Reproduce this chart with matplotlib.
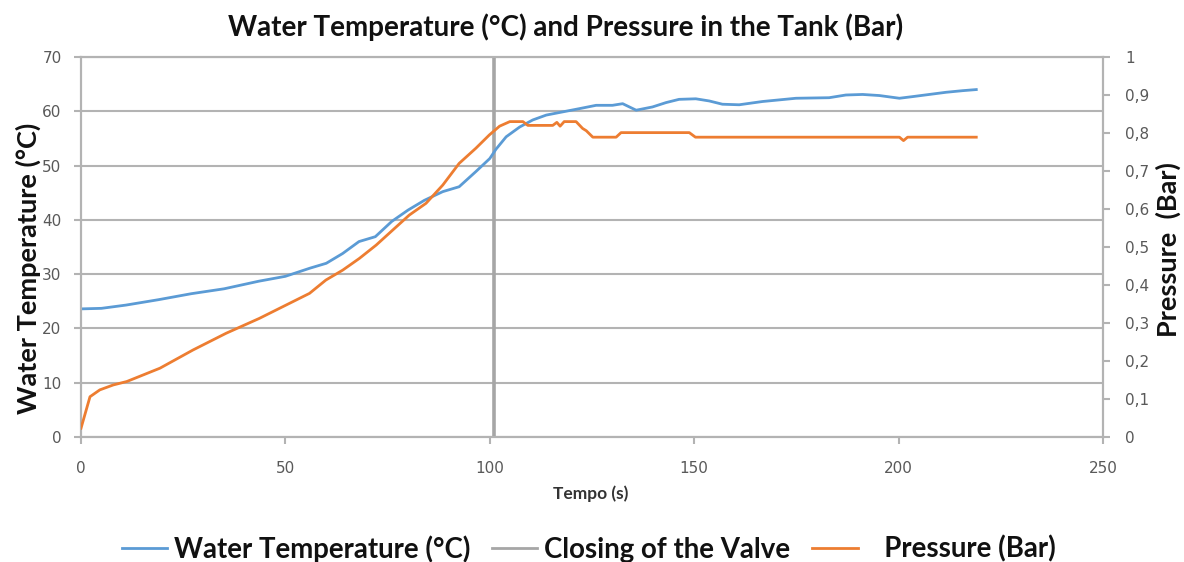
import matplotlib
matplotlib.use('Agg')
import matplotlib.pyplot as plt
from matplotlib.lines import Line2D
from matplotlib.ticker import FuncFormatter, MultipleLocator

plt.rcParams['font.family'] = ['DejaVu Sans']
LABEL_FONT = ['Lato', 'DejaVu Sans']

# water temperature (deg C) over time (s)
time_temp = [0, 5, 11, 19, 27, 35, 43.5, 50, 56, 60, 64, 68, 72, 76, 80, 84,
             88.5, 92.5, 96.6, 100, 101.5, 104, 107.3, 110.5, 113.8, 117.9,
             122, 126, 130, 132.5, 135.8, 139.8, 143.1, 146.3, 150.4, 153.7,
             156.9, 161, 166.7, 170.8, 174.9, 183, 187.1, 191.2, 195.3, 200.2,
             203.4, 207.5, 211.6, 215.7, 219]
temp_c = [23.6, 23.7, 24.3, 25.3, 26.4, 27.3, 28.7, 29.6, 31.1, 32.0, 33.8,
          36.0, 36.9, 39.7, 41.8, 43.6, 45.2, 46.1, 48.9, 51.3, 53.0, 55.3,
          57.1, 58.4, 59.3, 59.9, 60.5, 61.1, 61.1, 61.4, 60.2, 60.8, 61.6,
          62.2, 62.3, 61.9, 61.3, 61.2, 61.8, 62.1, 62.4, 62.5, 63.0, 63.1,
          62.9, 62.4, 62.7, 63.1, 63.5, 63.8, 64.0]

# tank pressure (bar) over time (s)
time_pres = [0, 2.2, 4.6, 7.9, 11.2, 19.3, 27.4, 35.5, 43.6, 51.8, 55.9, 59.9,
             64, 68.1, 72.2, 76.3, 80.3, 84.4, 88.5, 92.5, 96.6, 99.9, 102.4,
             104.9, 108.1, 109.3, 115.4, 116.4, 117.2, 118.2, 121.1, 122.7,
             123.6, 125.2, 130.9, 132.1, 148.8, 150.3, 200.2, 201.2, 202.2, 219]
pressure_bar = [0.023, 0.106, 0.124, 0.137, 0.146, 0.181, 0.229, 0.273, 0.312,
                0.356, 0.378, 0.413, 0.439, 0.470, 0.505, 0.545, 0.584, 0.615,
                0.663, 0.720, 0.760, 0.795, 0.818, 0.830, 0.830, 0.820, 0.820,
                0.828, 0.818, 0.830, 0.830, 0.812, 0.806, 0.789, 0.789, 0.801,
                0.801, 0.789, 0.789, 0.780, 0.789, 0.789]

valve_time = 101

BLUE = '#5b9bd5'
ORANGE = '#ed7d31'
VALVE = '#a6a6a6'
GRID = '#b3b3b3'
TICKTXT = '#595959'
DARK = '#111111'
W, H = 1184, 562

fig = plt.figure(figsize=(W / 100, H / 100), dpi=100)
ax = fig.add_axes([81 / W, 1 - 437 / H, (1103 - 81) / W, 380 / H])
ax2 = ax.twinx()

ax.set_xlim(0, 250)
ax.set_ylim(0, 70)
ax2.set_ylim(0, 1)

ax.xaxis.set_major_locator(MultipleLocator(50))
ax.yaxis.set_major_locator(MultipleLocator(10))
ax2.yaxis.set_major_locator(MultipleLocator(0.1))
ax2.yaxis.set_major_formatter(
    FuncFormatter(lambda v, _: ('%g' % round(v, 1)).replace('.', ',')))

ax.yaxis.grid(True, color=GRID, lw=1.5)
ax.set_axisbelow(True)
for a in (ax, ax2):
    for s in a.spines.values():
        s.set_color(GRID)
        s.set_linewidth(1.5)
ax.tick_params(axis='both', color=GRID, width=1.5, length=5,
               labelcolor=TICKTXT, labelsize=11)
ax.tick_params(axis='y', pad=9)
ax.tick_params(axis='x', pad=12)
ax2.tick_params(axis='y', color=GRID, width=1.5, length=5,
                labelcolor=TICKTXT, labelsize=11, pad=11)

ax.axvline(valve_time, color=VALVE, lw=2.6, zorder=2)
ax.plot(time_temp, temp_c, color=BLUE, lw=2, zorder=3)
ax2.plot(time_pres, pressure_bar, color=ORANGE, lw=2, zorder=3)

fig.text(566 / W, 1 - 27 / H,
         'Water Temperature (°C) and Pressure in the Tank (Bar)',
         ha='center', va='center', fontsize=20, fontweight='bold', color=DARK,
         family=LABEL_FONT)
fig.text(28 / W, 1 - 268 / H, 'Water Temperature (°C)', rotation=90,
         ha='center', va='center', fontsize=19.5, fontweight='bold', color=DARK,
         family=LABEL_FONT)
fig.text(1168 / W, 1 - 250 / H, 'Pressure  (Bar)', rotation=90,
         ha='center', va='center', fontsize=19.5, fontweight='bold', color=DARK,
         family=LABEL_FONT)
fig.text(591 / W, 1 - 494 / H, 'Tempo (s)', ha='center', va='center',
         fontsize=12.5, fontweight='bold', color='#333333', family=LABEL_FONT)

handles = [Line2D([], [], color=BLUE, lw=2),
           Line2D([], [], color=VALVE, lw=2),
           Line2D([], [], color=ORANGE, lw=2)]
labels = ['Water Temperature (°C)', 'Closing of the Valve', '   Pressure (Bar)']
fig.legend(handles, labels, loc='center', bbox_to_anchor=(589 / W, 1 - 549 / H),
           ncol=3, frameon=False, handlelength=1.63, handletextpad=0.25,
           columnspacing=0.8,
           prop={'size': 19.9, 'weight': 'bold', 'family': LABEL_FONT},
           labelcolor=DARK)

fig.savefig('out.png', dpi=100)
